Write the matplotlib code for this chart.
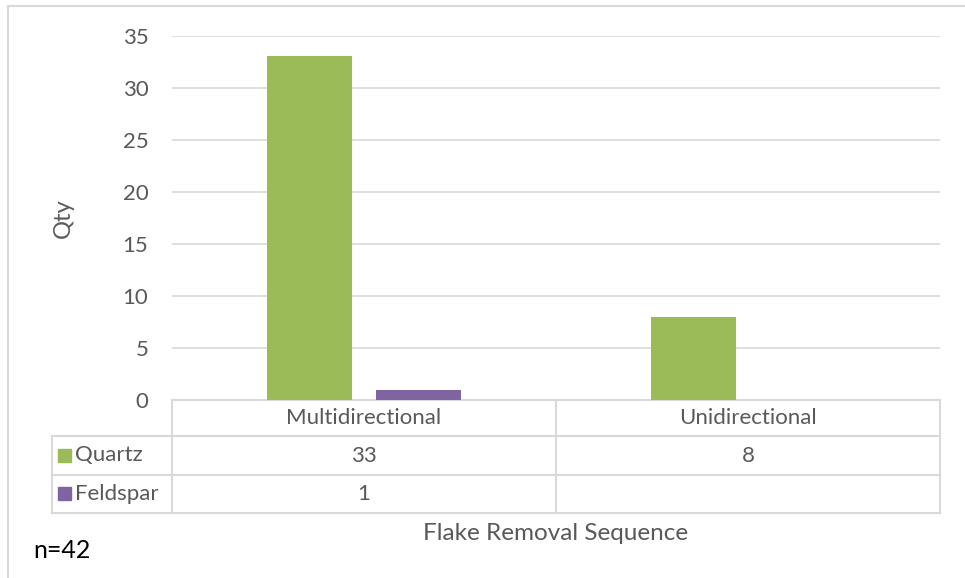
import numpy as np
import matplotlib.pyplot as plt
from matplotlib.patches import Rectangle
from matplotlib.lines import Line2D
import matplotlib.transforms as mtransforms

# data
categories = ["Multidirectional", "Unidirectional"]
series_names = ["Quartz", "Feldspar"]
quartz = [33, 8]
feldspar = [1, None]
colors = ["#9BBB59", "#8064A2"]
yticks = [0, 5, 10, 15, 20, 25, 30, 35]

plt.rcParams['font.family'] = ['Lato', 'DejaVu Sans']
txt = "#595959"
grid = "#d9d9d9"
fs = 16

fig = plt.figure(figsize=(9.65, 5.78), dpi=100)
W, H = 965, 578
ax = fig.add_axes([172 / W, 1 - 400 / H, 768 / W, 364.5 / H])

x = np.arange(len(categories))
w = 0.222
off = 0.141
qvals = [v if v is not None else 0 for v in quartz]
fvals = [v if v is not None else 0 for v in feldspar]
ax.bar(x - off, qvals, w, color=colors[0], zorder=3)
ax.bar(x + off, fvals, w, color=colors[1], zorder=3)

ax.set_xlim(-0.5, len(categories) - 0.5)
ax.set_ylim(0, 35)
ax.set_yticks(yticks)
ax.set_xticks([])
ax.tick_params(axis='y', length=0, pad=17, labelsize=fs, labelcolor=txt)
for s in ax.spines.values():
    s.set_visible(False)
ax.yaxis.grid(True, color=grid, linewidth=1.2, zorder=0)

# data table under the axis
trans = mtransforms.blended_transform_factory(ax.transData, ax.transAxes)
rows_y = [0, -36 / 364.5, -75 / 364.5, -113 / 364.5]
left_x = (52 - 172) / 768

# horizontal lines
ax.add_line(Line2D([0, 1], [rows_y[0]] * 2, transform=ax.transAxes,
                   color=grid, lw=1.5, clip_on=False))
for yy in rows_y[1:]:
    ax.add_line(Line2D([left_x, 1], [yy, yy], transform=ax.transAxes,
                       color=grid, lw=1.5, clip_on=False))
# vertical lines
ax.add_line(Line2D([left_x, left_x], [rows_y[1], rows_y[3]],
                   transform=ax.transAxes, color=grid, lw=1.5, clip_on=False))
for b in np.arange(len(categories) + 1) - 0.5:
    ax.add_line(Line2D([b, b], [rows_y[0], rows_y[3]], transform=trans,
                       color=grid, lw=1.5, clip_on=False))

# header and values
for i, c in enumerate(categories):
    ax.text(i, (rows_y[0] + rows_y[1]) / 2, c, transform=trans, ha='center',
            va='center', fontsize=fs, color=txt)
for r, vals in enumerate([quartz, feldspar]):
    yc = (rows_y[r + 1] + rows_y[r + 2]) / 2
    for i, v in enumerate(vals):
        if v is not None:
            ax.text(i, yc, str(v), transform=trans, ha='center',
                    va='center', fontsize=fs, color=txt)
    # legend key + series name
    ax.add_patch(Rectangle((left_x + 6 / 768, yc - 6.5 / 364.5), 13 / 768,
                           13 / 364.5, transform=ax.transAxes,
                           color=colors[r], clip_on=False))
    ax.text(left_x + 23 / 768, yc, series_names[r], transform=ax.transAxes,
            ha='left', va='center', fontsize=fs, color=txt)

ax.set_ylabel("Qty", fontsize=17, color=txt, labelpad=35)
fig.text(556 / W, 1 - 533 / H, "Flake Removal Sequence", ha='center',
         va='center', fontsize=17.5, color=txt)
fig.text(33 / W, 1 - 551 / H, "n=42", ha='left', va='center',
         fontsize=18, color='black')

# chart border (top and left visible)
fig.add_artist(Rectangle((8 / W, -0.05), 1.1, 1 - 6 / H + 0.05,
                         transform=fig.transFigure, fill=False,
                         edgecolor=grid, lw=1.5))

plt.savefig("out.png", dpi=100)
